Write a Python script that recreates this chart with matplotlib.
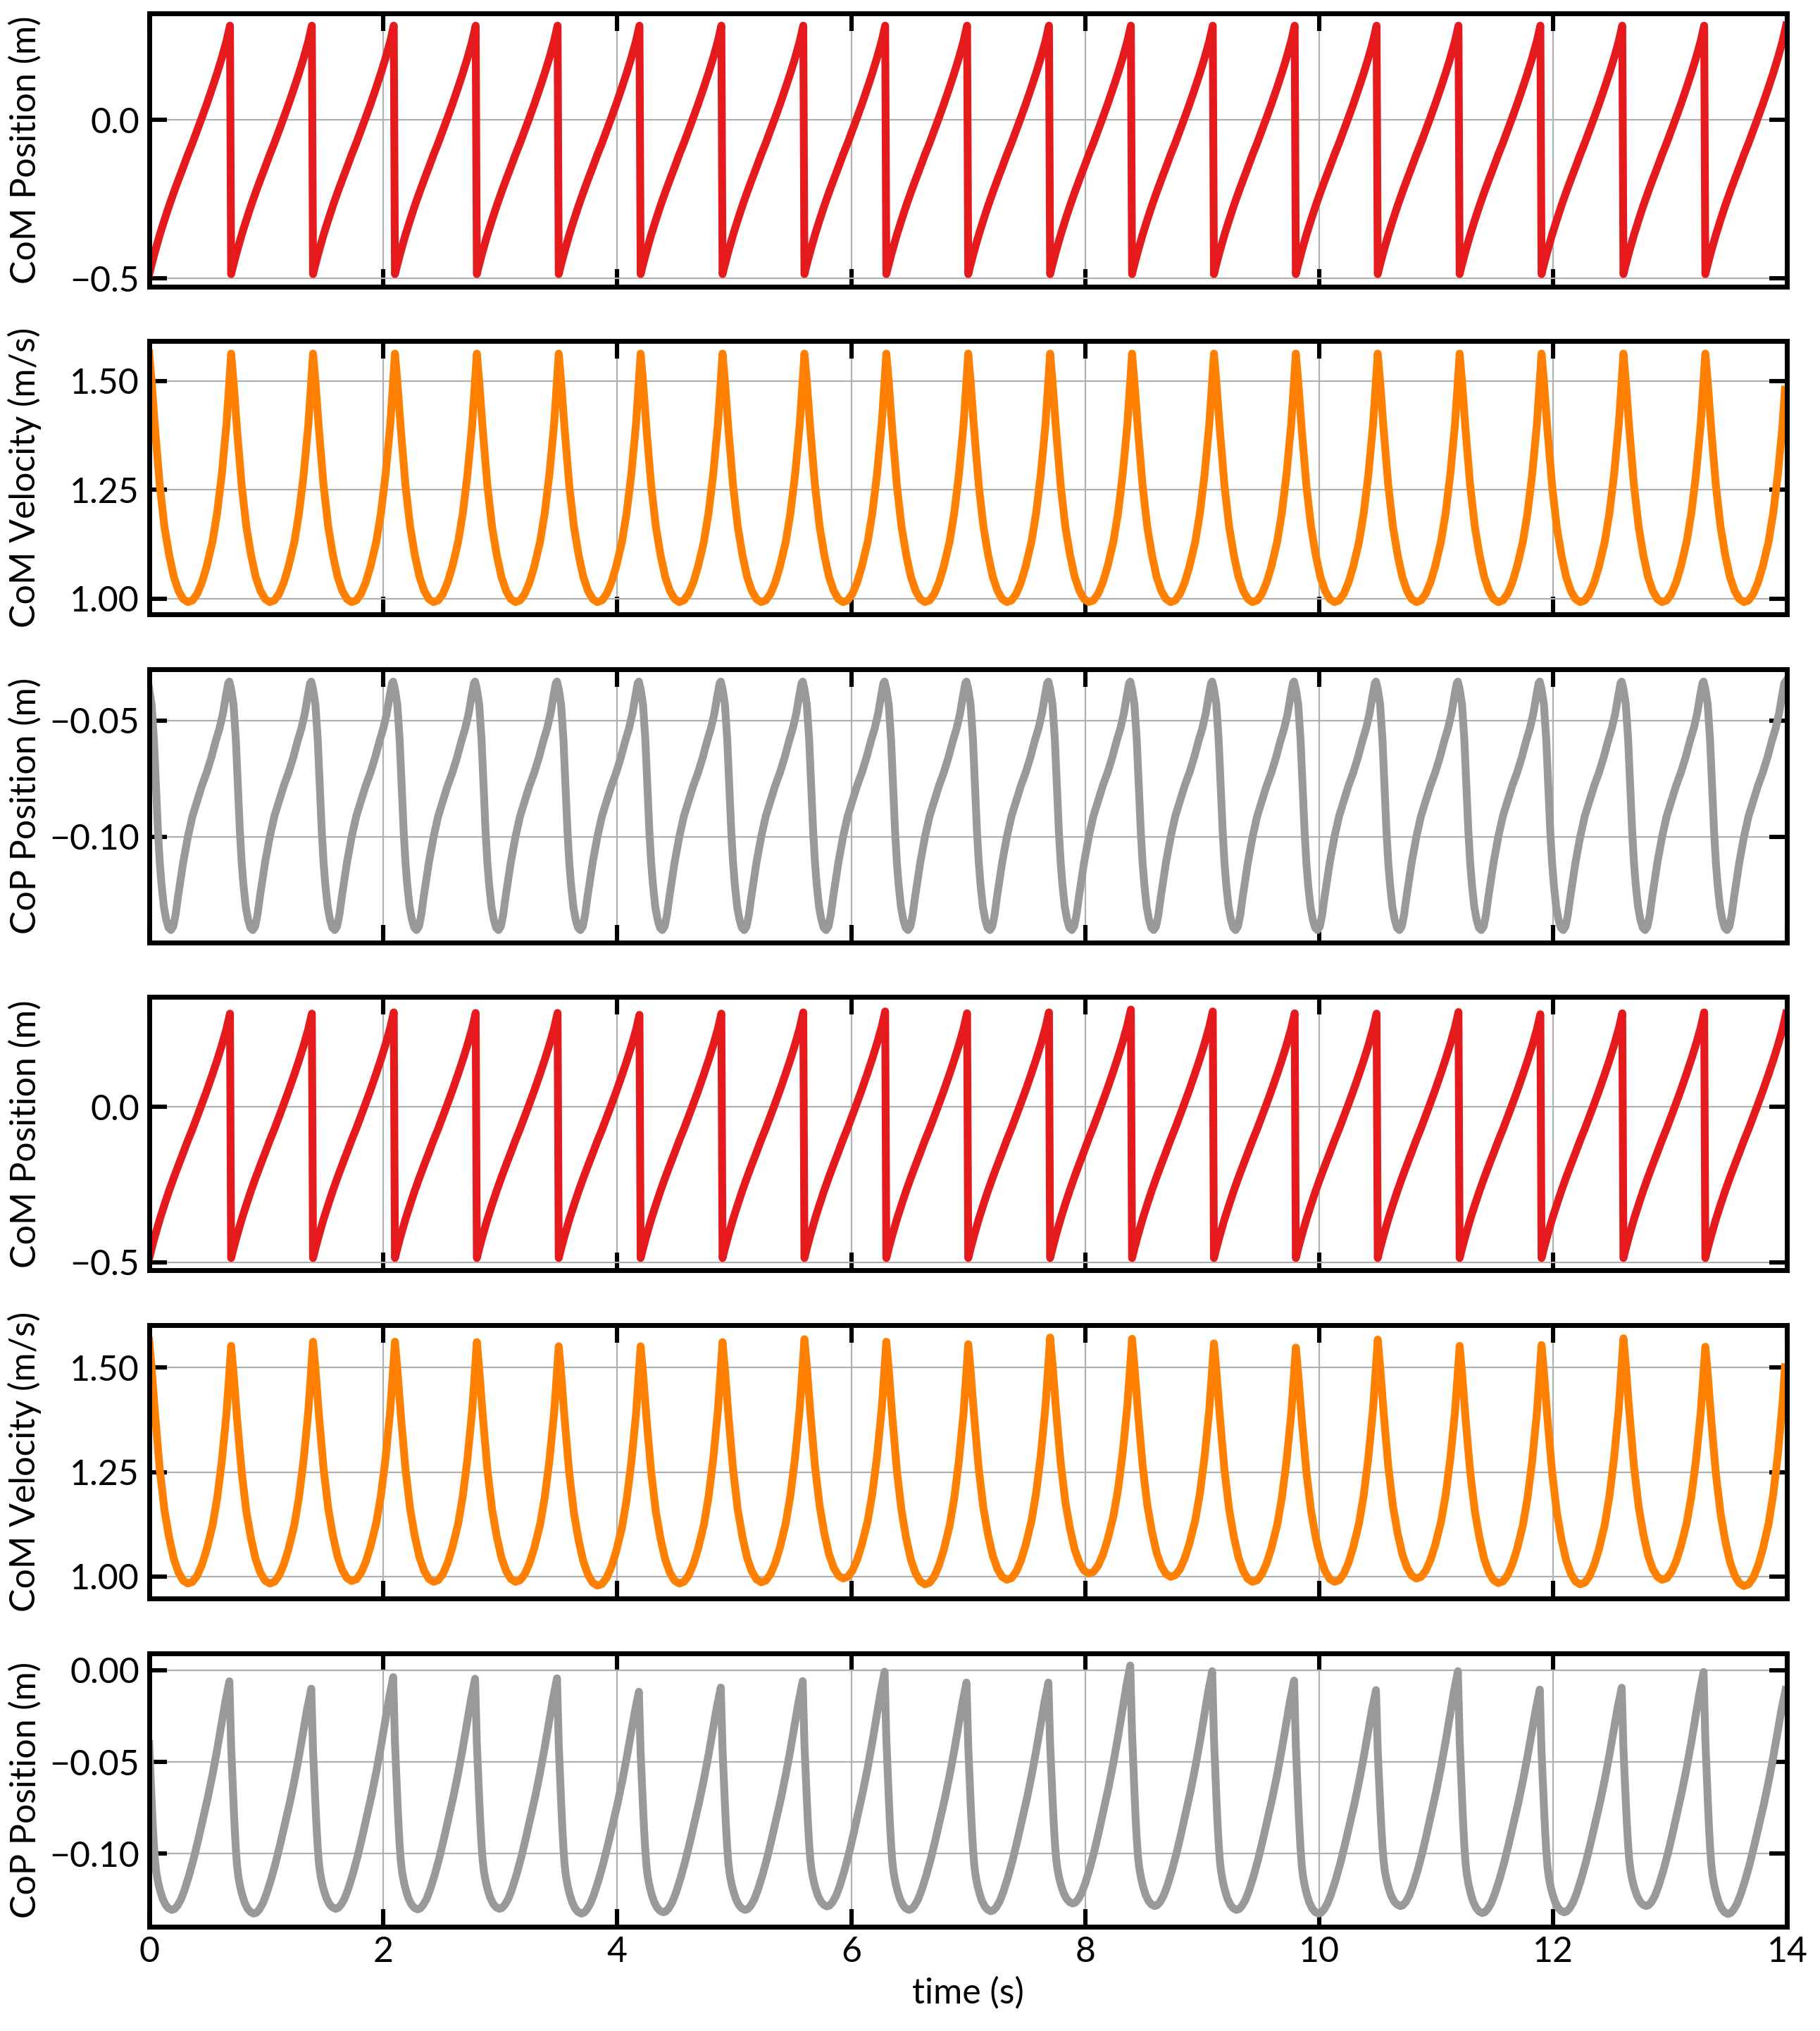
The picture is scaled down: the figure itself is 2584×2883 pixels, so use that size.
import numpy as np
import matplotlib
matplotlib.use("Agg")
import matplotlib.pyplot as plt
from matplotlib.ticker import MultipleLocator

plt.rcParams['font.family'] = ['Lato', 'DejaVu Sans']

# step start times (s), one step every 0.7 s
step_starts = [0.0, 0.7, 1.4, 2.1, 2.8, 3.5, 4.2, 4.9, 5.6, 6.3,
               7.0, 7.7, 8.4, 9.1, 9.8, 10.5, 11.2, 11.9, 12.6, 13.3]

# one step of CoM position (offset from step start, metres)
com_pos_off = [0.00, 0.02, 0.05, 0.09, 0.13, 0.17, 0.21, 0.25, 0.29, 0.33,
               0.37, 0.41, 0.45, 0.49, 0.54, 0.58, 0.62, 0.66, 0.69]
com_pos_val = [-0.486, -0.456, -0.414, -0.362, -0.315, -0.270, -0.228, -0.188, -0.149, -0.109,
               -0.072, -0.032, 0.008, 0.049, 0.103, 0.148, 0.196, 0.249, 0.298]

# one step of CoM velocity (m/s)
com_vel_off = [0.00, 0.02, 0.05, 0.09, 0.13, 0.17, 0.21, 0.25, 0.29, 0.33,
               0.37, 0.41, 0.45, 0.49, 0.54, 0.58, 0.62, 0.66, 0.68]
com_vel_val = [1.563, 1.50, 1.39, 1.26, 1.165, 1.10, 1.05, 1.018, 0.999, 0.992,
               0.996, 1.011, 1.037, 1.073, 1.13, 1.196, 1.285, 1.40, 1.48]

# one step of CoP position, top group (m)
cop_off = [0.00, 0.02, 0.04, 0.055, 0.075, 0.09, 0.105, 0.125, 0.145, 0.165,
           0.185, 0.205, 0.225, 0.245, 0.29, 0.33, 0.37, 0.41, 0.45, 0.49,
           0.53, 0.57, 0.60, 0.63, 0.655, 0.675, 0.685]
cop_val = [-0.0365, -0.043, -0.058, -0.075, -0.098, -0.111, -0.1205, -0.130, -0.1355, -0.139,
           -0.140, -0.1385, -0.1335, -0.126, -0.111, -0.100, -0.091, -0.0845, -0.078, -0.0725,
           -0.066, -0.0585, -0.0535, -0.047, -0.0395, -0.034, -0.0333]

# one step of CoP position, bottom group (0 = trough, 1 = peak)
cop2_off = [0.00, 0.01, 0.02, 0.03, 0.04, 0.05, 0.06, 0.07, 0.08, 0.095,
            0.115, 0.14, 0.165, 0.193, 0.215, 0.24, 0.27, 0.30, 0.34, 0.38,
            0.42, 0.46, 0.50, 0.54, 0.58, 0.62, 0.65, 0.685]
cop2_shape = [0.72, 0.60, 0.48, 0.37, 0.28, 0.21, 0.165, 0.135, 0.11, 0.08,
              0.048, 0.022, 0.007, 0.0, 0.004, 0.018, 0.045, 0.085, 0.15, 0.225,
              0.31, 0.40, 0.49, 0.59, 0.70, 0.82, 0.91, 1.0]

# bottom group: per-step extremes
com_pos2_trough = -0.486
com_pos2_peaks = [0.300, 0.300, 0.304, 0.302, 0.302, 0.296, 0.300, 0.304, 0.307, 0.301,
                  0.304, 0.313, 0.307, 0.301, 0.300, 0.305, 0.298, 0.301, 0.304, 0.300]
com_vel2_peaks = [1.564, 1.552, 1.562, 1.562, 1.561, 1.551, 1.551, 1.561, 1.568, 1.562, 1.556,
                  1.572, 1.569, 1.558, 1.548, 1.567, 1.552, 1.554, 1.570, 1.550, 1.590]
com_vel2_troughs = [0.983, 0.983, 0.989, 0.987, 0.987, 0.978, 0.983, 0.986, 0.995, 0.981,
                    0.992, 1.007, 0.999, 0.987, 0.987, 0.995, 0.984, 0.981, 0.992, 0.977]
cop2_peaks = [-0.005, -0.006, -0.010, -0.0037, -0.0046, -0.0044, -0.0117, -0.0094, -0.0059, -0.0008,
              -0.0067, -0.0067, 0.0026, -0.0005, -0.0056, -0.0108, -0.0005, -0.0105, -0.0095, -0.0009,
              -0.0108]
cop2_troughs = [-0.1306, -0.1326, -0.1300, -0.1303, -0.1300, -0.1326, -0.1319, -0.1306, -0.1287, -0.1306,
                -0.1313, -0.1271, -0.1285, -0.1306, -0.1326, -0.1285, -0.1323, -0.1319, -0.1285, -0.1328]

red = '#e41a1c'
orange = '#ff7f00'
grey = '#999999'


def repeat_steps(offsets, values):
    t, y = [], []
    for s in step_starts:
        for o, v in zip(offsets, values):
            t.append(s + o)
            y.append(v)
    return t, y


# top group: same step every time
t1, y1 = repeat_steps(com_pos_off, com_pos_val)
t2, y2 = repeat_steps(com_vel_off, com_vel_val)
t3, y3 = repeat_steps(cop_off, cop_val)

# bottom group: step shape with each step's own extremes
pos_lo, pos_hi = com_pos_val[0], com_pos_val[-1]
t4, y4 = [], []
for k, s in enumerate(step_starts):
    for o, v in zip(com_pos_off, com_pos_val):
        f = (v - pos_lo) / (pos_hi - pos_lo)
        t4.append(s + o)
        y4.append(com_pos2_trough + f * (com_pos2_peaks[k] - com_pos2_trough))

vel_lo, vel_hi = min(com_vel_val), com_vel_val[0]
vel_trough_off = com_vel_off[com_vel_val.index(vel_lo)]
t5, y5 = [], []
for k, s in enumerate(step_starts):
    for o, v in zip(com_vel_off, com_vel_val):
        f = (v - vel_lo) / (vel_hi - vel_lo)
        top = com_vel2_peaks[k] if o <= vel_trough_off else com_vel2_peaks[k + 1]
        t5.append(s + o)
        y5.append(com_vel2_troughs[k] + f * (top - com_vel2_troughs[k]))

cop2_trough_off = cop2_off[cop2_shape.index(0.0)]
t6, y6 = [], []
for k, s in enumerate(step_starts):
    for o, f in zip(cop2_off, cop2_shape):
        top = cop2_peaks[k] if o <= cop2_trough_off else cop2_peaks[k + 1]
        t6.append(s + o)
        y6.append(cop2_troughs[k] + f * (top - cop2_troughs[k]))

fig, axes = plt.subplots(6, 1, sharex=True, figsize=(12.92, 14.415), dpi=200)
fig.subplots_adjust(left=0.082, right=0.982, top=0.9935, bottom=0.0515, hspace=0.2)

panels = [
    (t1, y1, red, 'CoM Position (m)', 0.5),
    (t2, y2, orange, 'CoM Velocity (m/s)', 0.25),
    (t3, y3, grey, 'CoP Position (m)', 0.05),
    (t4, y4, red, 'CoM Position (m)', 0.5),
    (t5, y5, orange, 'CoM Velocity (m/s)', 0.25),
    (t6, y6, grey, 'CoP Position (m)', 0.05),
]

for ax, (t, y, c, lab, step) in zip(axes, panels):
    ax.plot(t, y, color=c, linewidth=4.0)
    ax.set_ylabel(lab, fontsize=18)
    ax.yaxis.set_major_locator(MultipleLocator(step))
    ax.grid(True, color='#b0b0b0', linewidth=0.8)
    ax.set_axisbelow(True)
    ax.tick_params(direction='in', length=9, width=2.2, top=True, right=True,
                   labelsize=18, pad=5)
    for sp in ax.spines.values():
        sp.set_linewidth(2.5)

axes[-1].set_xlim(0, 14)
axes[-1].xaxis.set_major_locator(MultipleLocator(2))
axes[-1].set_xlabel('time (s)', fontsize=18)
fig.align_ylabels(axes)

fig.savefig('out.png', dpi=200)
